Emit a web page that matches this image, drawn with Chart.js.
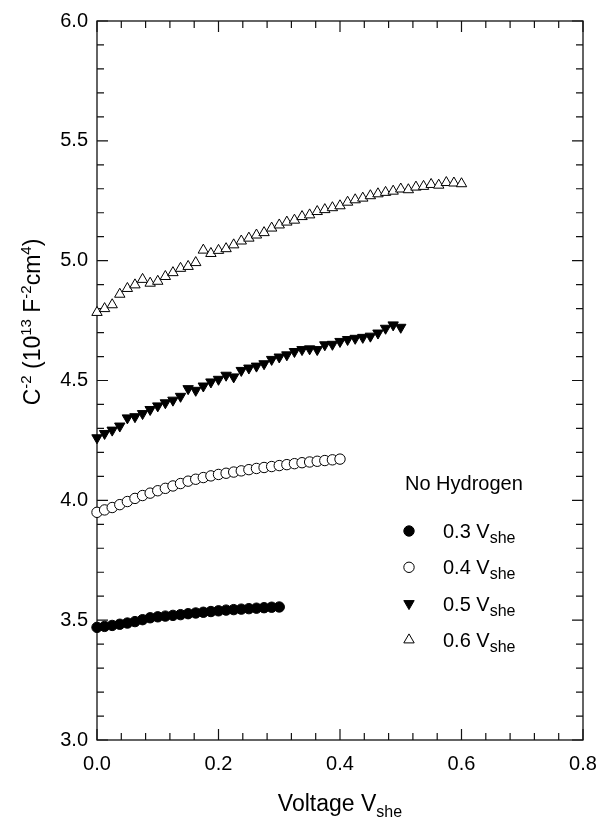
<!DOCTYPE html>
<html>
<head>
<meta charset="utf-8">
<script src="https://cdn.jsdelivr.net/npm/chart.js@4/dist/chart.umd.min.js"></script>
<style>
  html, body { margin: 0; padding: 0; background: #fff; }
  #wrap { width: 613px; height: 819px; position: relative; }
</style>
</head>
<body>
<div id="wrap"><canvas id="c" width="613" height="819"></canvas></div>
<script>
// Applied potential (V vs SHE) at which each capacitance reading was taken
const voltage = [
  0.0000, 0.0125, 0.0250, 0.0375, 0.0500, 0.0625, 0.0750, 0.0875, 0.1000, 0.1125,
  0.1250, 0.1375, 0.1500, 0.1625, 0.1750, 0.1875, 0.2000, 0.2125, 0.2250, 0.2375,
  0.2500, 0.2625, 0.2750, 0.2875, 0.3000, 0.3125, 0.3250, 0.3375, 0.3500, 0.3625,
  0.3750, 0.3875, 0.4000, 0.4125, 0.4250, 0.4375, 0.4500, 0.4625, 0.4750, 0.4875,
  0.5000, 0.5125, 0.5250, 0.5375, 0.5500, 0.5625, 0.5750, 0.5875, 0.6000
];

// C^-2 in units of 1e13 F^-2 cm^4, one list per film-formation potential
const film03 = [
  3.470, 3.474, 3.478, 3.483, 3.488, 3.494, 3.502, 3.510, 3.514, 3.517,
  3.520, 3.523, 3.527, 3.530, 3.533, 3.536, 3.539, 3.542, 3.544, 3.546,
  3.548, 3.550, 3.552, 3.554, 3.555
];
const film04 = [
  3.950, 3.960, 3.970, 3.982, 3.995, 4.008, 4.020, 4.030, 4.040, 4.050,
  4.060, 4.070, 4.080, 4.088, 4.095, 4.102, 4.108, 4.113, 4.118, 4.123,
  4.128, 4.133, 4.137, 4.141, 4.145, 4.149, 4.153, 4.157, 4.160, 4.163,
  4.166, 4.169, 4.172
];
const film05 = [
  4.261, 4.279, 4.293, 4.310, 4.344, 4.349, 4.362, 4.379, 4.394, 4.407,
  4.418, 4.434, 4.466, 4.459, 4.477, 4.494, 4.505, 4.522, 4.515, 4.542,
  4.552, 4.560, 4.570, 4.588, 4.598, 4.607, 4.621, 4.629, 4.632, 4.629,
  4.649, 4.651, 4.663, 4.671, 4.676, 4.680, 4.685, 4.698, 4.718, 4.732,
  4.722
];
const film06 = [
  4.784, 4.800, 4.816, 4.860, 4.884, 4.899, 4.922, 4.906, 4.914, 4.934,
  4.950, 4.968, 4.976, 4.992, 5.044, 5.030, 5.043, 5.050, 5.066, 5.082,
  5.094, 5.107, 5.117, 5.136, 5.149, 5.161, 5.169, 5.184, 5.191, 5.205,
  5.213, 5.221, 5.229, 5.244, 5.254, 5.261, 5.271, 5.279, 5.285, 5.290,
  5.299, 5.296, 5.307, 5.310, 5.318, 5.315, 5.326, 5.324, 5.321
];

const seriesNames = ['0.3 V', '0.4 V', '0.5 V', '0.6 V'];
const legendHeading = 'No Hydrogen';

const FONT = '"Liberation Sans", Arial, Helvetica, sans-serif';

function pairs(values) {
  return values.map((v, i) => ({ x: voltage[i], y: v }));
}

// Marker look for each series: filled circle, open circle, filled down-triangle, open up-triangle
const markers = [
  { pointStyle: 'circle',   radius: 5.2, rotation: 0,   fill: '#000' },
  { pointStyle: 'circle',   radius: 5.2, rotation: 0,   fill: '#fff' },
  { pointStyle: 'triangle', radius: 6.0, rotation: 180, fill: '#000' },
  { pointStyle: 'triangle', radius: 6.0, rotation: 0,   fill: '#fff' }
];

const seriesData = [film03, film04, film05, film06];

const datasets = seriesData.map((vals, k) => ({
  label: seriesNames[k],
  data: pairs(vals),
  showLine: false,
  clip: false,
  pointStyle: markers[k].pointStyle,
  pointRadius: markers[k].radius,
  pointRotation: markers[k].rotation,
  pointBackgroundColor: markers[k].fill,
  pointBorderColor: '#000',
  pointBorderWidth: 1,
  pointHoverRadius: markers[k].radius
}));

// Draws text made of runs of different sizes, some raised or lowered
function richWidth(ctx, parts) {
  let w = 0;
  for (const p of parts) {
    ctx.font = p.size + 'px ' + FONT;
    w += ctx.measureText(p.t).width;
  }
  return w;
}
function drawRich(ctx, parts, x, y) {
  let cx = x;
  for (const p of parts) {
    ctx.font = p.size + 'px ' + FONT;
    ctx.fillText(p.t, cx, y + (p.dy || 0));
    cx += ctx.measureText(p.t).width;
  }
}

function drawMarker(ctx, m, x, y) {
  ctx.save();
  ctx.fillStyle = m.fill;
  ctx.strokeStyle = '#000';
  ctx.lineWidth = 1;
  if (Chart.helpers && Chart.helpers.drawPoint) {
    Chart.helpers.drawPoint(ctx, { pointStyle: m.pointStyle, radius: m.radius, rotation: m.rotation, borderWidth: 1 }, x, y);
  } else {
    ctx.beginPath();
    if (m.pointStyle === 'circle') {
      ctx.arc(x, y, m.radius, 0, Math.PI * 2);
    } else {
      let rad = m.rotation * Math.PI / 180;
      for (let i = 0; i < 3; i++) {
        const px = x + Math.sin(rad) * m.radius, py = y - Math.cos(rad) * m.radius;
        i ? ctx.lineTo(px, py) : ctx.moveTo(px, py);
        rad += 2 * Math.PI / 3;
      }
      ctx.closePath();
    }
    ctx.fill();
    ctx.stroke();
  }
  ctx.restore();
}

const framePlugin = {
  id: 'frameTicks',
  beforeDatasetsDraw(chart) {
    const { ctx, chartArea: a, scales: { x, y } } = chart;
    ctx.save();
    ctx.strokeStyle = '#111';
    ctx.lineWidth = 1.3;
    ctx.strokeRect(a.left, a.top, a.right - a.left, a.bottom - a.top);
    ctx.lineWidth = 1.2;
    ctx.beginPath();
    // inward ticks on all four sides: majors every 0.2 V / 0.5, minors between
    for (let i = 0; i <= 20; i++) {
      const px = x.getPixelForValue(i * 0.04);
      const len = i % 5 === 0 ? 11 : 7;
      ctx.moveTo(px, a.bottom); ctx.lineTo(px, a.bottom - len);
      ctx.moveTo(px, a.top); ctx.lineTo(px, a.top + len);
    }
    for (let i = 0; i <= 30; i++) {
      const py = y.getPixelForValue(3 + i * 0.1);
      const len = i % 5 === 0 ? 11 : 7;
      ctx.moveTo(a.left, py); ctx.lineTo(a.left + len, py);
      ctx.moveTo(a.right, py); ctx.lineTo(a.right - len, py);
    }
    ctx.stroke();
    ctx.restore();
  },
  afterDraw(chart) {
    const { ctx, chartArea: a } = chart;
    ctx.save();
    ctx.fillStyle = '#000';
    ctx.textBaseline = 'alphabetic';
    ctx.textAlign = 'left';

    // x-axis title
    const xt = [{ t: 'Voltage V', size: 23 }, { t: 'she', size: 16, dy: 6 }];
    const xw = richWidth(ctx, xt);
    drawRich(ctx, xt, (a.left + a.right) / 2 - xw / 2, 811);

    // y-axis title, rotated
    const yt = [
      { t: 'C', size: 23 }, { t: '-2', size: 15, dy: -9 },
      { t: ' (10', size: 23 }, { t: '13', size: 15, dy: -9 },
      { t: ' F', size: 23 }, { t: '-2', size: 15, dy: -9 },
      { t: 'cm', size: 23 }, { t: '4', size: 15, dy: -9 },
      { t: ')', size: 23 }
    ];
    const yw = richWidth(ctx, yt);
    ctx.save();
    ctx.translate(40, 322);
    ctx.rotate(-Math.PI / 2);
    drawRich(ctx, yt, -yw / 2, 0);
    ctx.restore();

    // legend
    ctx.font = '20px ' + FONT;
    ctx.fillText(legendHeading, 405, 490);
    for (let k = 0; k < seriesNames.length; k++) {
      const my = 531 + k * 36.3;
      drawMarker(ctx, markers[k], 409, my);
      ctx.fillStyle = '#000';
      drawRich(ctx, [{ t: seriesNames[k], size: 20 }, { t: 'she', size: 16, dy: 5 }], 443, my + 7);
    }
    ctx.restore();
  }
};

Chart.defaults.color = '#000';
Chart.defaults.font.family = FONT;

new Chart(document.getElementById('c'), {
  type: 'scatter',
  data: { datasets },
  options: {
    responsive: false,
    devicePixelRatio: 1,
    animation: false,
    layout: { padding: { top: 17, right: 30, left: 0, bottom: 0 } },
    plugins: { legend: { display: false }, tooltip: { enabled: false } },
    scales: {
      x: {
        type: 'linear',
        min: 0, max: 0.8,
        grid: { display: false, drawTicks: false },
        border: { display: false },
        ticks: { stepSize: 0.2, padding: 12, font: { size: 20 }, color: '#000', callback: v => v.toFixed(1) },
        afterFit: s => { s.height = 79; }
      },
      y: {
        type: 'linear',
        min: 3, max: 6,
        grid: { display: false, drawTicks: false },
        border: { display: false },
        ticks: { stepSize: 0.5, padding: 9, font: { size: 20 }, color: '#000', callback: v => v.toFixed(1) },
        afterFit: s => { s.width = 97; }
      }
    }
  },
  plugins: [framePlugin]
});
</script>
</body>
</html>
